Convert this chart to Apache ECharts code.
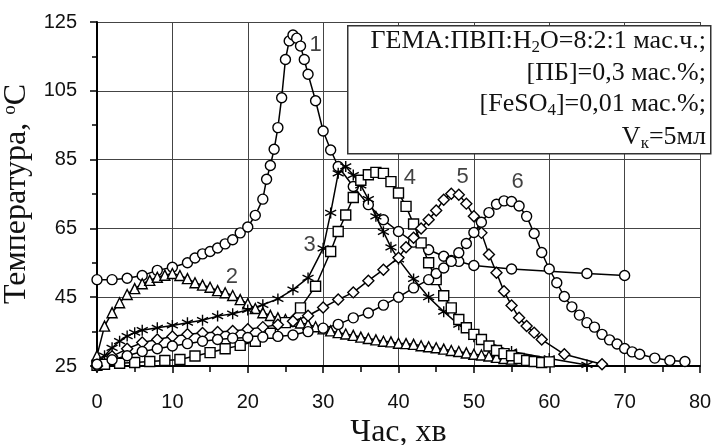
<!DOCTYPE html>
<html>
<head>
<meta charset="utf-8">
<script src="https://cdn.jsdelivr.net/npm/echarts@6/dist/echarts.min.js"></script>
<style>html,body{margin:0;padding:0;background:#fff;}#c{width:715px;height:445px;}</style>
</head>
<body>
<div id="c"></div>
<script>
// ---- Data (time in minutes, temperature in °C) ----
const c1x = [0,2,4,6,8,10,12,13,14,15,16,17,18,19,20,21,22,22.5,23,23.5,24,24.5,25,25.5,26,26.5,27,27.5,28,29,30,31,32,34,36,38,40,42,44,46,47,48,50,55,65,70];
const c1y = [50.1,50.1,50.5,51.3,52.8,53.7,55,56.4,57.6,58.3,59.3,60.5,61.7,63.7,65.4,68.8,73.5,79.3,83.3,88,94.3,103,114.1,119.5,121.2,120.3,118,114.1,109.8,102.1,93.3,87.8,83,77.2,71.9,67.5,64.1,61,58.8,56.9,55.7,55.4,54.2,53.2,51.9,51.3];

const c2x = [0,1,2,3,4,5,6,7,8,9,10,11,12,13,14,15,16,17,18,19,20,21,22,23,24,25,26,27,28,29,30,31,32,33,34,35,36,37,38,39,40,41,42,43,44,45,46,47,48,49,50,51,52,53,54,55];
const c2y = [28,36.6,40.5,43.4,45.8,47.5,48.9,49.9,50.8,51.4,51.9,51.3,50.4,49.2,48.5,47.9,46.9,46.3,45.5,44.3,43.1,41.7,40.5,39.7,39,38.5,38,37.5,37.1,36.4,35.8,35.2,34.7,34.3,33.9,33.4,33,32.6,32.2,32,31.6,31.5,31.3,30.9,30.6,30.3,29.9,29.5,29.2,28.8,28.4,28.2,27.9,27.5,27.2,27];

const c3x = [0,1,2,3,4,5,6,8,10,12,14,16,18,20,22,24,26,28,30,31,32,33,34,35,36,37,38,39,40,42,44,46,48,50,55,60,65];
const c3y = [25.5,28,30.3,32.2,33.7,34.7,35.4,36.1,36.8,37.6,38.3,39.5,40.2,41.3,42.8,44.5,47.2,50.6,59.2,69.5,81,83,80.5,77.5,73.5,68.5,64,59.5,56,50.3,45,40.8,37,33.5,29.2,27.2,25.3];

const c4x = [0,1,3,5,7,9,11,13,15,17,19,21,23,25,27,29,31,32,33,34,35,36,37,38,39,40,41,42,43,44,45,46,47,48,49,50,51,52,53,54,55,56,57,58,59,60];
const c4y = [25.2,25.5,25.8,26,26.3,26.6,26.9,27.9,28.9,30,31,32.2,34.5,37.6,41.9,48.2,58.3,64.1,68.9,74,79,80.6,81.3,81,78.6,75.3,71.4,66.3,60.8,55,50.1,45.4,41.9,38.5,36.1,34.2,32.7,30.8,29.5,28.6,28,27.2,26.6,26.3,26,26.2];

const c5x = [0,2,4,6,8,10,12,14,16,18,20,22,24,26,28,30,32,34,36,38,40,41,42,43,44,45,46,47,48,49,50,51,52,53,54,55,56,57,58,59,62,67];
const c5y = [25,27.8,30,31.8,32.7,33.6,34.2,34.6,34.9,35.2,35.7,36.3,37,38,39.6,42,44.3,46.4,49.8,53,56.5,59.5,62.3,65,67.5,70.2,73.3,75.1,74.8,72.2,68.5,63.7,57.4,52.1,46.7,42.6,39,36.6,34.7,32.7,28.4,25.5];

const c6x = [0,2,4,6,8,10,12,14,16,18,20,22,24,26,28,30,32,34,36,38,40,42,44,45,46,47,48,49,50,51,52,53,54,55,56,57,58,59,60,61,62,63,64,65,66,67,68,69,70,71,72,74,76,78];
const c6y = [25.5,26.8,28,29.2,30,30.8,31.5,32.2,32.7,33.1,33.3,33.4,33.6,34,35,36,37.1,39,40.4,42.7,45,47.7,50.1,51.9,53.5,55.4,57.9,60.6,63.8,66.8,69.6,72,73,72.8,71.5,68.5,63.5,58,53.2,49.2,45.2,42.2,39.8,37.6,36.3,34.2,32.6,31.4,30.1,29.1,28.4,27.3,26.6,26.3];

const curveLabels = ['1','2','3','4','5','6'];
const curveLabelX = [29.0,17.9,28.2,41.5,48.5,55.8];
const curveLabelY = [118.2,51,60.2,79.7,80,78.6];

const xTicks = {min:0, max:80, interval:10};
const yTicks = {min:25, max:125, interval:20};

const xTitle = 'Час, хв';
const yTitle = '{a|Температура, }{b|o}{a|C}';
const noteLines = [
  'ГЕМА:ПВП:H{s|2}O=8:2:1 мас.ч.;',
  '[ПБ]=0,3 мас.%;',
  '[FeSO{s|4}]=0,01 мас.%;',
  'V{s|к}=5мл'
];

// ---- Chart ----
const zip = (xs, ys) => xs.map((x, i) => [x, ys[i]]);
const asterisk = 'path://M5,0L5,10M0.67,2.5L9.33,7.5M0.67,7.5L9.33,2.5';
function mkSeries(xs, ys, symbol, size, filled) {
  return {
    type: 'line', data: zip(xs, ys), symbol: symbol, symbolSize: size,
    showAllSymbol: true,
    lineStyle: {color: '#000', width: 1.5},
    itemStyle: {color: filled ? '#000' : '#fff', borderColor: '#000', borderWidth: 1.4},
    emphasis: {disabled: true}, z: 3
  };
}
const serif = '"Liberation Serif", "Times New Roman", serif';
const sans = '"Liberation Sans", Arial, sans-serif';
const subRich = {
  m: {fontFamily: serif, fontSize: 26, color: '#111', lineHeight: 30, align: 'right'},
  s: {fontFamily: serif, fontSize: 17, color: '#111', lineHeight: 18, verticalAlign: 'bottom', align: 'right'}
};
function noteText(str) {
  const parts = str.split(/(\{s\|[^}]*\})/).filter(p => p.length);
  return parts.map(p => p.startsWith('{s|') ? p : '{m|' + p + '}').join('');
}
const noteTops = [26, 58, 89.5, 122.5];

const chart = echarts.init(document.getElementById('c'), null, {renderer: 'canvas'});
chart.setOption({
  animation: false,
  backgroundColor: '#fff',
  grid: {left: 97, right: 15, top: 22, bottom: 79, containLabel: false, outerBoundsMode: 'none'},
  xAxis: {
    type: 'value', min: xTicks.min, max: xTicks.max, interval: xTicks.interval,
    name: xTitle, nameLocation: 'middle', nameGap: 41,
    nameTextStyle: {fontFamily: serif, fontSize: 32, color: '#111'},
    axisLine: {show: true, lineStyle: {color: '#000', width: 2}},
    axisTick: {show: true, inside: false, length: 7, lineStyle: {color: '#000', width: 1.5}},
    minorTick: {show: true, splitNumber: 2, length: 6, lineStyle: {color: '#000', width: 1.5}},
    axisLabel: {fontFamily: sans, fontSize: 20, color: '#111', margin: 26},
    splitLine: {show: true, lineStyle: {color: '#444', width: 1}}
  },
  yAxis: {
    type: 'value', min: yTicks.min, max: yTicks.max, interval: yTicks.interval,
    name: yTitle, nameLocation: 'middle', nameGap: 52, nameRotate: 90,
    nameTextStyle: {
      rich: {
        a: {fontFamily: serif, fontSize: 32, color: '#111'},
        b: {fontFamily: serif, fontSize: 19, color: '#111', verticalAlign: 'top', lineHeight: 20}
      }
    },
    axisLine: {show: true, lineStyle: {color: '#000', width: 2}},
    axisTick: {show: true, inside: false, length: 7, lineStyle: {color: '#000', width: 1.5}},
    minorTick: {show: true, splitNumber: 2, length: 5, lineStyle: {color: '#000', width: 1.5}},
    axisLabel: {fontFamily: sans, fontSize: 20, color: '#111', margin: 20},
    splitLine: {show: true, lineStyle: {color: '#444', width: 1}}
  },
  series: [
    mkSeries(c1x, c1y, 'circle', 10, false),
    mkSeries(c2x, c2y, 'triangle', 10, false),
    mkSeries(c3x, c3y, asterisk, 11, true),
    mkSeries(c4x, c4y, 'rect', 10, false),
    mkSeries(c5x, c5y, 'diamond', 11, false),
    mkSeries(c6x, c6y, 'circle', 10, false),
    {
      type: 'scatter', data: zip(curveLabelX, curveLabelY), symbolSize: 1,
      itemStyle: {color: 'transparent'}, z: 5,
      label: {show: true, position: 'inside', fontFamily: sans, fontSize: 22, color: '#111',
        formatter: p => curveLabels[p.dataIndex]},
      emphasis: {disabled: true}, silent: true
    }
  ],
  graphic: [
    {type: 'rect', left: 347, top: 25, z: 10,
      shape: {width: 363, height: 128},
      style: {fill: '#fff', stroke: '#333', lineWidth: 1.5}},
  ].concat(noteLines.map((t, i) => ({
    type: 'text', z: 11,
    style: {x: 706, y: noteTops[i], text: noteText(t), rich: subRich, align: 'right', verticalAlign: 'top',
      fill: '#111', font: '26px ' + serif}
  })))
});
</script>
</body>
</html>
